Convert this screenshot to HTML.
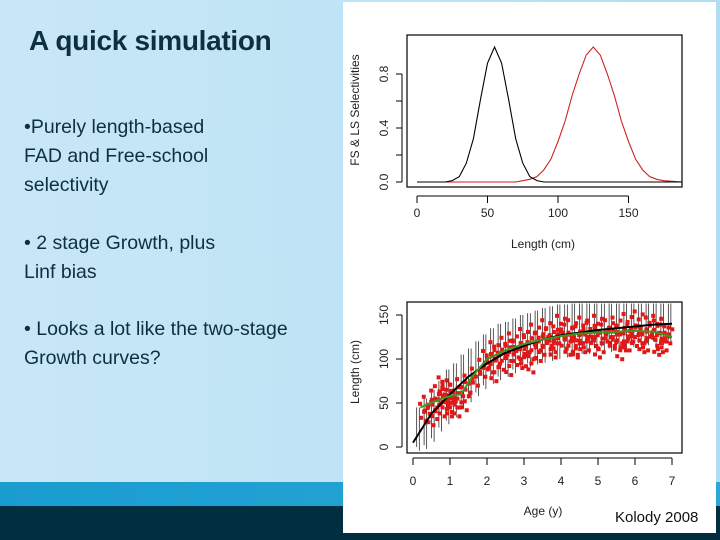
<!DOCTYPE html>
<html><head><meta charset="utf-8"><style>
html,body{margin:0;padding:0}
body{width:720px;height:540px;position:relative;overflow:hidden;background:linear-gradient(90deg,#c8e7f6 0%,#bde3f5 60%,#b0ddf2 100%);font-family:"Liberation Sans",sans-serif}
.t{position:absolute;color:#0d2f3f;white-space:nowrap}
#title{left:29px;top:25px;font-size:28px;font-weight:bold;letter-spacing:-0.3px}
.b{font-size:19.5px;line-height:29px;left:24px}
#band1{position:absolute;left:0;top:482px;width:720px;height:24px;background:linear-gradient(90deg,#1b9ccf,#2aa9d8)}
#band2{position:absolute;left:0;top:506px;width:720px;height:34px;background:#012f3f}
#panel{position:absolute;left:343px;top:2px;width:373px;height:531px;background:#fff}
svg{position:absolute;left:0;top:0}
#kol{position:absolute;left:615px;top:509px;font-size:15px;color:#111}
</style></head><body>
<div id="band1"></div>
<div id="band2"></div>
<div class="t" id="title">A quick simulation</div>
<div class="t b" style="top:113px">•Purely length-based<br>FAD and Free-school<br>selectivity</div>
<div class="t b" style="top:229px">• 2 stage Growth, plus<br>Linf bias</div>
<div class="t b" style="top:315px">• Looks a lot like the two-stage<br>Growth curves?</div>
<div id="panel"></div>
<svg id="chart" width="720" height="540"></svg>
<div id="kol">Kolody 2008</div>
<script>
// Top chart data
const selLenBlack=[0,20,25,30,35,40,45,50,55,60,65,70,75,80,85,90,95,188];
const selBlack=[0,0,0.01,0.04,0.14,0.32,0.61,0.88,1,0.88,0.61,0.32,0.14,0.04,0.01,0,0,0];
const selLenRed=[0,65,70,75,80,85,90,95,100,105,110,115,120,125,130,135,140,145,150,155,160,165,170,175,188];
const selRed=[0,0,0,0.01,0.02,0.04,0.09,0.17,0.3,0.45,0.64,0.8,0.94,1,0.94,0.8,0.64,0.45,0.3,0.17,0.09,0.04,0.02,0.01,0];
const topXTicks=[0,50,100,150];
const topYTicks=[0,0.2,0.4,0.6,0.8];
const topYLabels=["0.0","","0.4","","0.8"];
// Bottom chart data
const ageBlack=[0,0.5,1,1.5,2,2.5,3,3.5,4,4.5,5,5.5,6,6.5,7];
const lenBlack=[5,38,60,80,95,107,115,122,127,130,133,135,137,139,140];
const ageGreen=[0.2,0.6,1,1.3,1.6,2,2.5,3,3.5,4,4.5,5,5.5,6,6.5,7];
const lenGreen=[45,52,58,60,80,100,110,117,122,126,129,130,131,132,131,125];
const barAge=[0.1,0.3,0.5,0.7,0.9,1.1,1.3,1.5,1.7,1.9,2.1,2.3,2.5,2.7,2.9,3.1,3.3,3.5,3.7,3.9,4.1,4.3,4.5,4.7,4.9,5.1,5.3,5.5,5.7,5.9,6.1,6.3,6.5,6.7,6.9];
const barLow=[0,2,10,22,30,38,48,55,62,70,76,80,84,88,92,95,98,100,102,104,106,108,110,110,112,114,112,115,116,118,118,120,120,120,122];
const barHigh=[45,55,65,75,88,95,105,112,120,128,135,140,142,146,150,152,155,158,160,162,162,164,164,165,165,165,165,165,165,165,165,165,165,165,165];
const redAge=[0.3,0.4,0.5,0.6,0.7,0.8,0.9,1.0,1.1,1.2,0.6,0.8,1.0,1.3,1.5,1.7,1.9,2.0,2.1,2.2,2.3,2.4,2.5,2.6,2.7,2.8,2.9,3.0,3.1,3.2,3.3,3.4,3.5,3.6,3.7,3.8,3.9,4.0,4.1,4.2,4.3,4.4,4.5,4.6,4.7,4.8,4.9,5.0,5.1,5.2,5.3,5.4,5.5,5.6,5.7,5.8,5.9,6.0,6.1,6.2,6.3,6.4,6.5,6.6,6.7,6.8,6.9,2.2,2.6,3.0,3.4,3.8,4.2,4.6,5.0,5.4,5.8,6.2,6.6,1.2,1.4,0.9,3.2,4.4,5.6,6.8];
const redLen=[40,48,35,55,60,45,65,50,62,55,42,70,45,68,72,80,90,100,95,110,105,98,115,108,120,112,100,125,118,110,130,120,115,135,125,118,128,140,122,130,135,115,128,138,120,132,125,140,118,130,135,122,138,128,120,142,130,125,145,128,120,138,132,140,118,130,128,85,92,102,108,112,115,118,112,125,120,118,115,45,52,58,95,112,110,120];
const botXTicks=[0,1,2,3,4,5,6,7];
const botYTicks=[0,50,100,150];

const S=document.getElementById('chart');
const NS='http://www.w3.org/2000/svg';
function mk(tag,attrs,parent){const e=document.createElementNS(NS,tag);for(const k in attrs)e.setAttribute(k,attrs[k]);(parent||S).appendChild(e);return e;}
function txt(x,y,s,size,rot,anchor){const e=mk('text',{x:x,y:y,'font-size':size,'font-family':'Liberation Sans, sans-serif','text-anchor':anchor||'middle',fill:'#222'});if(rot)e.setAttribute('transform','rotate(-90 '+x+' '+y+')');e.textContent=s;return e;}

// top axes
const tx=v=>417+v*1.41, ty=v=>182-v*135;
const tg=mk('g',{});


const tb=mk('rect',{x:407,y:35,width:275,height:152,fill:'none',stroke:'#000','stroke-width':1.2},tg);


topXTicks.forEach(v=>{mk('line',{x1:tx(v),x2:tx(v),y1:196,y2:203,stroke:'#000'},tg);const t=txt(tx(v),217,String(v),12);});
mk('line',{x1:tx(0),x2:tx(150),y1:196,y2:196,stroke:'#000'},tg);
topYTicks.forEach((v,i)=>{mk('line',{x1:396,x2:402,y1:ty(v),y2:ty(v),stroke:'#000'},tg);if(topYLabels[i]){const t=txt(388,ty(v),topYLabels[i],12,true);}});
mk('line',{x1:402,x2:402,y1:ty(0),y2:ty(0.8),stroke:'#000'},tg);
let e=txt(543,248,'Length (cm)',12);
e=txt(359,110,'FS & LS Selectivities',12,true);
e=mk('polyline',{points:selLenRed.map((v,i)=>tx(v)+','+ty(selRed[i])).join(' '),fill:'none',stroke:'#d02020','stroke-width':1.1},tg);

e=mk('polyline',{points:selLenBlack.map((v,i)=>tx(v)+','+ty(selBlack[i])).join(' '),fill:'none',stroke:'#000','stroke-width':1.1},tg);


// bottom axes
const bx=v=>413+v*37, by=v=>447-v*0.88;
const bg=mk('g',{});


barAge.forEach((a,i)=>{[0,0.07].forEach(d=>{const l=mk('line',{x1:bx(a+d),x2:bx(a+d),y1:by(barLow[i]-d*60),y2:by(Math.min(barHigh[i],163)),stroke:'#111','stroke-width':0.7},bg);});});
const offs=[[0,0],[4,-5],[-3,6],[2,9],[-4,-8]];
redAge.forEach((a,i)=>{offs.forEach(o=>{const r=mk('rect',{x:bx(a)+o[0]-2,y:by(redLen[i])+o[1]-2,width:4,height:4,fill:'#e01818'},bg);});});
e=mk('polyline',{points:ageBlack.map((v,i)=>bx(v)+','+by(lenBlack[i])).join(' '),fill:'none',stroke:'#000','stroke-width':2},bg);

e=mk('polyline',{points:ageGreen.map((v,i)=>bx(v)+','+by(lenGreen[i])).join(' '),fill:'none',stroke:'#3a9a20','stroke-width':2},bg);

mk('rect',{x:343,y:290,width:64,height:170,fill:'#fff'},bg);
mk('rect',{x:682.6,y:290,width:33,height:170,fill:'#fff'},bg);
mk('rect',{x:407,y:290,width:276,height:11.4,fill:'#fff'},bg);
const bb=mk('rect',{x:407,y:302,width:275,height:151,fill:'none',stroke:'#000','stroke-width':1.2},bg);

mk('line',{x1:bx(0),x2:bx(7),y1:458,y2:458,stroke:'#000'},bg);
botXTicks.forEach(v=>{mk('line',{x1:bx(v),x2:bx(v),y1:458,y2:465,stroke:'#000'},bg);const t=txt(bx(v),485,String(v),12);});
mk('line',{x1:402,x2:402,y1:by(0),y2:by(150),stroke:'#000'},bg);
botYTicks.forEach(v=>{mk('line',{x1:396,x2:402,y1:by(v),y2:by(v),stroke:'#000'},bg);const t=txt(388,by(v),String(v),12,true);});
e=txt(543,515,'Age (y)',12);
e=txt(359,372,'Length (cm)',12,true);
</script>
</body></html>
